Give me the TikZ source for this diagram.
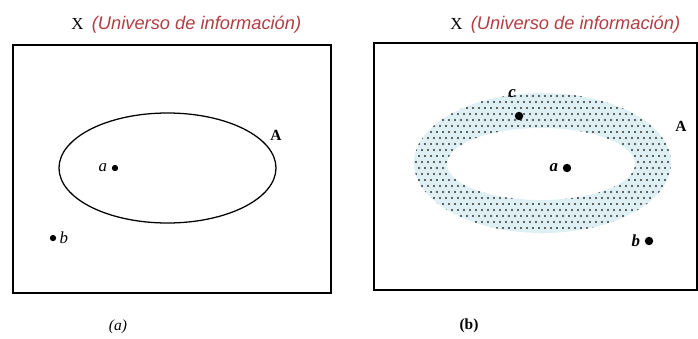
\documentclass[tikz,border=0pt]{standalone}
\usepackage{fontspec}
\setmainfont{Liberation Serif}
\setsansfont{Liberation Sans}
\usetikzlibrary{positioning}
\definecolor{universoRed}{RGB}{178, 62, 66}
\definecolor{universoCyan}{RGB}{222, 240, 244}

\begin{document}
\begin{tikzpicture}[
  x=0.025cm, y=-0.025cm,
  panel/.style={draw, line width=0.8pt},
  title/.style={font=\fontsize{12}{14}\selectfont, anchor=west, inner sep=0pt},
  dotmark/.style={circle, fill=black, inner sep=0pt, minimum size=#1},
  dotmark/.default=4.5pt,
  lbl/.style={font=\fontsize{12}{14}\selectfont\itshape, inner sep=1pt},
  boldlbl/.style={lbl, font=\bfseries\itshape\fontsize{12}{14}\selectfont},
  caption/.style={font=\fontsize{11}{13}\selectfont\itshape}
]
\useasboundingbox (0,0) rectangle (698,338);
\node[title] (titleA) at (71,25) {X~~\textcolor{universoRed}{\sffamily\itshape\fontsize{13}{15}\selectfont (Universo de información)}};
\node[title] (titleB) at (450,25) {X~~\textcolor{universoRed}{\sffamily\itshape\fontsize{13}{15}\selectfont (Universo de información)}};
\draw[panel] (13,45) rectangle (331,293);
\draw[panel] (374,43) rectangle (697,290);
\draw[line width=0.9pt] (167.5,168) ellipse [x radius=108.5, y radius=55];
\node[font=\bfseries\fontsize{11}{13}\selectfont] (setA) at (276,135) {A};
\node[dotmark] (a1) at (115,168) {};
\node[lbl, left=2pt of a1] (la1) {a};
\node[dotmark] (b1) at (53,238) {};
\node[lbl, right=1pt of b1] (lb1) {b};
\node[caption] (capA) at (118,327) {(a)};
\fill[universoCyan, even odd rule] (542.5,163) ellipse [x radius=128.5, y radius=70]
  (541,164) ellipse [x radius=94, y radius=36];
\begin{scope}[even odd rule]
  \clip (542.5,163) ellipse [x radius=128.5, y radius=70]
    (541,164) ellipse [x radius=94, y radius=36];
  \foreach \i in {0,...,44} {
    \foreach \j in {0,...,24} {
      \fill[black!80] ({410+6*\i+3*mod(\j,2)},{90+6*\j}) circle [radius=1.2];
    }
  }
\end{scope}
\node[font=\bfseries\fontsize{11}{13}\selectfont] (setB) at (681,126) {A};
\node[dotmark=6pt] (c2) at (519,116) {};
\node[boldlbl] (lc2) at (512,94) {c};
\node[dotmark=6pt] (a2) at (567,168) {};
\node[boldlbl, left=2pt of a2] (la2) {a};
\node[dotmark=6pt] (b2) at (649,241) {};
\node[boldlbl, left=2pt of b2] (lb2) {b};
\node[caption, font=\bfseries\fontsize{11}{13}\selectfont] (capB) at (469,326) {(b)};
\end{tikzpicture}
\end{document}
